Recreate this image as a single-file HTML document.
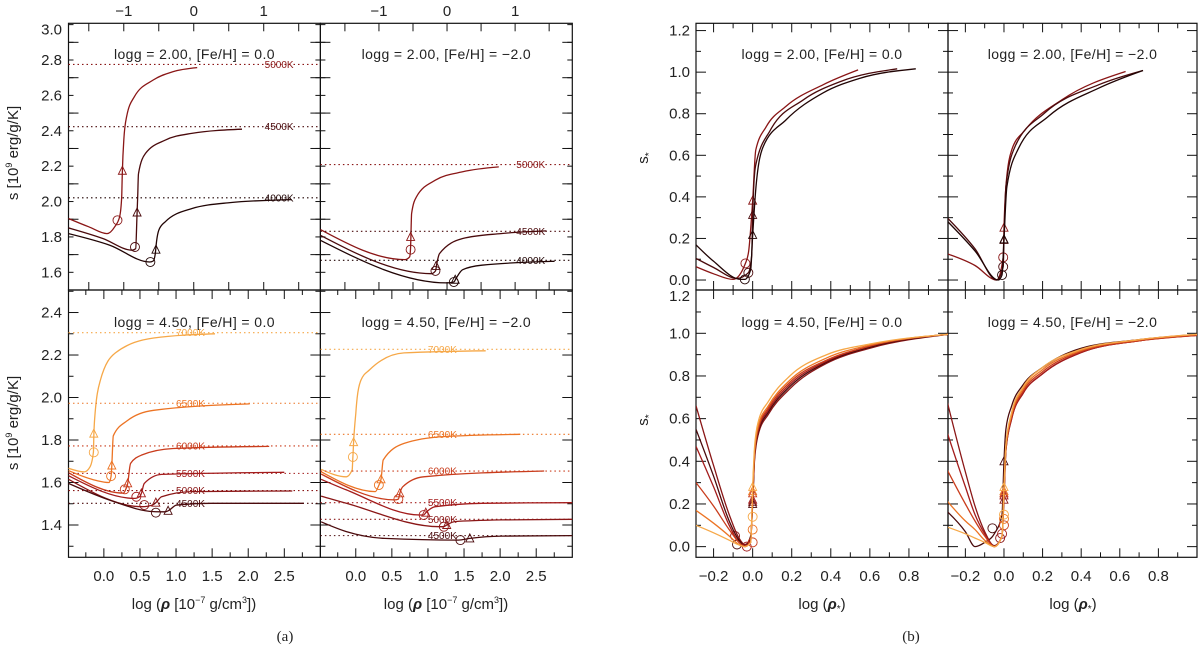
<!DOCTYPE html>
<html><head><meta charset="utf-8"><title>Entropy panels</title>
<style>
html,body{margin:0;padding:0;background:#fff;}
svg{display:block;font-family:"Liberation Sans",sans-serif;}
text{fill:#222;}
</style></head>
<body>
<svg id="fig" width="1200" height="650" viewBox="0 0 1200 650" xmlns="http://www.w3.org/2000/svg">
<defs>
<clipPath id="cA1"><rect x="68.5" y="23.3" width="251.9" height="266.7"/></clipPath>
<clipPath id="cA2"><rect x="320.4" y="23.3" width="251.9" height="266.7"/></clipPath>
<clipPath id="cA3"><rect x="68.5" y="290" width="251.9" height="267.3"/></clipPath>
<clipPath id="cA4"><rect x="320.4" y="290" width="251.9" height="267.3"/></clipPath>
<clipPath id="cB1"><rect x="696" y="23.3" width="252" height="266.7"/></clipPath>
<clipPath id="cB2"><rect x="948" y="23.3" width="249" height="266.7"/></clipPath>
<clipPath id="cB3"><rect x="696" y="290" width="252" height="267.3"/></clipPath>
<clipPath id="cB4"><rect x="948" y="290" width="249" height="267.3"/></clipPath>
</defs>
<g id="layer"></g>
<text transform="translate(18,153) rotate(-90)" text-anchor="middle" font-size="15">s [10<tspan font-size="9" dy="-6">9</tspan><tspan dy="6"> erg/g/K]</tspan></text>
<text transform="translate(18,423) rotate(-90)" text-anchor="middle" font-size="15">s [10<tspan font-size="9" dy="-6">9</tspan><tspan dy="6"> erg/g/K]</tspan></text>
<text transform="translate(648,158) rotate(-90)" text-anchor="middle" font-size="15">s<tspan font-size="10" dy="4">*</tspan></text>
<text transform="translate(648,420) rotate(-90)" text-anchor="middle" font-size="15">s<tspan font-size="10" dy="4">*</tspan></text>
<text x="194" y="609" text-anchor="middle" font-size="15">log (<tspan font-weight="bold" font-style="italic">ρ</tspan> [10<tspan font-size="9" dy="-6">−7</tspan><tspan dy="6"> g/cm</tspan><tspan font-size="9" dy="-6">3</tspan><tspan dy="6">])</tspan></text>
<text x="446" y="609" text-anchor="middle" font-size="15">log (<tspan font-weight="bold" font-style="italic">ρ</tspan> [10<tspan font-size="9" dy="-6">−7</tspan><tspan dy="6"> g/cm</tspan><tspan font-size="9" dy="-6">3</tspan><tspan dy="6">])</tspan></text>
<text x="822" y="609" text-anchor="middle" font-size="15">log (<tspan font-weight="bold" font-style="italic">ρ</tspan><tspan font-size="10" dy="3">*</tspan><tspan dy="-3">)</tspan></text>
<text x="1073" y="609" text-anchor="middle" font-size="15">log (<tspan font-weight="bold" font-style="italic">ρ</tspan><tspan font-size="10" dy="3">*</tspan><tspan dy="-3">)</tspan></text>
<text x="285" y="641" text-anchor="middle" font-size="15" font-family="Liberation Serif, serif">(a)</text>
<text x="911" y="641" text-anchor="middle" font-size="15" font-family="Liberation Serif, serif">(b)</text>
</svg>
<script>
const NS='http://www.w3.org/2000/svg';
const tempColor={'4000K':'#200404','4500K':'#4a0a0c','5000K':'#8a1616','5500K':'#a31c1c','6000K':'#c93c1c','6500K':'#ec7424','7000K':'#f6a848'};

// tick label arrays
const aTopTickLabels=[-1,0,1];
const aTopTicks=[-1.5,-1,-0.5,0,0.5,1,1.5];
const aBotTickLabels=[0,0.5,1,1.5,2,2.5];
const aBotMinor=[-0.25,0.25,0.75,1.25,1.75,2.25,2.75];
const aYTopLabels=[1.6,1.8,2.0,2.2,2.4,2.6,2.8,3.0];
const aYBotLabels=[1.4,1.6,1.8,2.0,2.2,2.4];
const bXTickLabels=[-0.2,0,0.2,0.4,0.6,0.8];
const bYLabels=[0,0.2,0.4,0.6,0.8,1.0,1.2];

// ---- panel A1: logg 2.00 [Fe/H] 0.0
const a1Temps=['5000K','4500K','4000K'];
const a1X=[[-1.79,-1.5,-1.24,-1.13,-1.06,-1.03,-1.02,-1.0,-0.96,-0.85,-0.58,-0.30,0.05],
 [-1.79,-1.3,-0.88,-0.83,-0.81,-0.80,-0.79,-0.69,-0.41,-0.03,0.69],
 [-1.79,-1.2,-0.63,-0.58,-0.55,-0.53,-0.50,-0.41,-0.03,0.52,1.40]];
const a1Y=[[1.904,1.857,1.819,1.857,1.913,2.026,2.174,2.347,2.479,2.592,2.687,2.734,2.757],
 [1.851,1.791,1.725,1.734,1.938,2.045,2.158,2.272,2.347,2.385,2.409],
 [1.819,1.753,1.658,1.664,1.706,1.781,1.838,1.885,1.960,1.994,2.011]];
const a1CircX=[-1.09,-0.84,-0.62], a1CircY=[1.894,1.743,1.658];
const a1TriX=[-1.02,-0.81,-0.54], a1TriY=[2.174,1.938,1.728];
const a1Levels=[2.775,2.423,2.021];

// ---- panel A2: logg 2.00 [Fe/H] -2.0
const a2Temps=['5000K','4500K','4000K'];
const a2X=[[-1.86,-0.62,-0.55,-0.535,-0.52,-0.45,-0.17,0.23,0.76],
 [-1.86,-0.23,-0.17,-0.15,-0.11,0.23,0.79,1.46],
 [-1.86,0,0.10,0.13,0.23,0.51,1.58]];
const a2Y=[[1.842,1.672,1.687,1.743,1.932,2.026,2.121,2.168,2.196],
 [1.809,1.592,1.608,1.649,1.706,1.791,1.819,1.834],
 [1.781,1.540,1.545,1.564,1.615,1.640,1.662]];
const a2CircX=[-0.535,-0.17,0.10], a2CircY=[1.728,1.608,1.545];
const a2TriX=[-0.535,-0.16,0.12], a2TriY=[1.800,1.636,1.558];
const a2Levels=[2.209,1.832,1.668];

// ---- panel A3: logg 4.50 [Fe/H] 0.0
const a3Temps=['7000K','6500K','6000K','5500K','5000K','4500K'];
const a3X=[[-0.49,-0.27,-0.19,-0.145,-0.138,-0.13,-0.05,0.16,0.69,1.54],
 [-0.49,-0.11,0.07,0.10,0.11,0.13,0.32,0.69,2.02],
 [-0.49,0.27,0.30,0.33,0.37,0.53,0.96,2.29],
 [-0.49,0.43,0.50,0.52,0.56,0.80,2.50],
 [-0.49,0.53,0.68,0.72,0.80,1.22,2.61],
 [-0.49,0.10,0.69,0.85,0.89,1.01,1.49,2.77]];
const a3Y=[[1.667,1.65,1.675,1.742,1.83,1.89,2.08,2.21,2.28,2.30],
 [1.656,1.61,1.60,1.63,1.68,1.82,1.89,1.94,1.97],
 [1.646,1.55,1.565,1.596,1.69,1.73,1.76,1.77],
 [1.632,1.525,1.535,1.549,1.596,1.638,1.648],
 [1.615,1.486,1.495,1.505,1.533,1.557,1.56],
 [1.596,1.515,1.463,1.462,1.467,1.494,1.502,1.502]];
const a3CircX=[-0.14,0.10,0.29,0.45,0.56,0.72], a3CircY=[1.742,1.63,1.568,1.533,1.494,1.458];
const a3TriX=[-0.14,0.11,0.33,0.52,0.72,0.89], a3TriY=[1.83,1.68,1.596,1.549,1.505,1.467];
const a3Levels=[2.305,1.973,1.772,1.643,1.562,1.502];

// ---- panel A4: logg 4.50 [Fe/H] -2.0
const a4Temps=['7000K','6500K','6000K','5500K','5000K','4500K'];
const a4X=[[-0.48,-0.13,-0.05,-0.04,-0.03,0,0.02,0.07,0.19,0.67,1.80],
 [-0.48,0.27,0.32,0.35,0.38,0.67,1.21,2.28],
 [-0.48,0.54,0.59,0.61,0.65,0.94,2.61],
 [-0.48,-0.13,0.89,0.94,0.97,1.10,1.75,3.0],
 [-0.48,-0.13,1.16,1.22,1.26,1.37,2.02,3.0],
 [-0.48,-0.13,0.40,1.42,1.58,2.02,3.0]];
const a4Y=[[1.662,1.627,1.66,1.72,1.79,1.925,2.0,2.08,2.13,2.21,2.22],
 [1.651,1.557,1.588,1.615,1.706,1.784,1.816,1.827],
 [1.64,1.518,1.522,1.549,1.58,1.627,1.654],
 [1.615,1.565,1.447,1.447,1.458,1.486,1.502,1.505],
 [1.536,1.502,1.392,1.392,1.40,1.416,1.424,1.427],
 [1.415,1.369,1.337,1.329,1.337,1.348,1.35]];
const a4CircX=[-0.04,0.32,0.59,0.94,1.22,1.45], a4CircY=[1.72,1.588,1.522,1.447,1.392,1.329];
const a4TriX=[-0.03,0.35,0.61,0.97,1.26,1.58], a4TriY=[1.79,1.615,1.549,1.458,1.40,1.337];
const a4Levels=[2.227,1.827,1.654,1.505,1.427,1.35];

// ---- panel B1
const b1Temps=['5000K','4500K','4000K'];
const b1X=[[-0.29,-0.2,-0.10,-0.037,-0.02,0.0,0.016,0.07,0.17,0.36,0.54],
 [-0.29,-0.2,-0.08,-0.022,-0.005,0,0.015,0.09,0.26,0.45,0.74],
 [-0.29,-0.2,-0.06,-0.04,-0.01,0,0.017,0.054,0.17,0.36,0.55,0.835]];
const b1Y=[[0.064,0.03,0.003,0.08,0.14,0.382,0.626,0.738,0.835,0.939,1.011],
 [0.104,0.06,0.008,0.035,0.12,0.313,0.55,0.72,0.867,0.955,1.016],
 [0.169,0.09,0.003,0.003,0.05,0.217,0.449,0.642,0.77,0.90,0.971,1.016]];
const b1CircX=[-0.037,-0.022,-0.04], b1CircY=[0.08,0.035,0.003];
const b1TriX=[0,0,0], b1TriY=[0.382,0.313,0.217];

// ---- panel B2
const b2Temps=['5000K','4500K','4000K'];
const b2X=[[-0.30,-0.15,-0.038,-0.004,0,0.01,0.04,0.11,0.30,0.63],
 [-0.30,-0.15,-0.038,-0.004,0,0.01,0.057,0.21,0.49,0.72],
 [-0.30,-0.15,-0.03,-0.01,0,0.015,0.076,0.23,0.49,0.72]];
const b2Y=[[0.128,0.07,0.0,0.109,0.252,0.449,0.626,0.722,0.867,1.003],
 [0.305,0.15,0.0,0.064,0.193,0.449,0.642,0.803,0.939,1.008],
 [0.289,0.14,0.0,0.024,0.196,0.449,0.634,0.787,0.923,1.008]];
const b2CircX=[-0.004,-0.004,-0.01], b2CircY=[0.109,0.064,0.024];
const b2TriX=[0,0,0], b2TriY=[0.252,0.193,0.196];

// ---- panel B3
const b3Temps=['5000K','4500K','5500K','6000K','6500K','7000K'];
const b3X=[-0.29,-0.2,-0.12,-0.07,-0.04,-0.01,0,0.01,0.03,0.08,0.19,0.38,0.6,1.0];
const b3Y=[[0.66,0.38,0.15,0.04,0.01,0.04,0.21,0.41,0.53,0.62,0.74,0.86,0.93,0.995],
 [0.55,0.33,0.12,0.03,0.005,0.05,0.20,0.42,0.54,0.63,0.75,0.865,0.935,0.995],
 [0.47,0.28,0.10,0.02,0.005,0.03,0.22,0.43,0.55,0.64,0.76,0.87,0.94,0.995],
 [0.30,0.19,0.08,0.02,0.0,0.02,0.25,0.44,0.56,0.65,0.77,0.875,0.94,0.995],
 [0.17,0.11,0.05,0.01,0.0,0.02,0.26,0.45,0.57,0.66,0.78,0.885,0.945,0.995],
 [0.10,0.065,0.03,0.008,0.0,0.02,0.28,0.47,0.59,0.68,0.80,0.90,0.95,0.995]];
const b3CircX=[-0.09,-0.08,-0.03,0,0,0], b3CircY=[0.05,0.01,0.0,0.02,0.08,0.14];
const b3TriX=[0,0,0,0,0,0], b3TriY=[0.21,0.20,0.22,0.25,0.26,0.28];

// ---- panel B4
const b4Temps=['4500K','5000K','5500K','6000K','6500K','7000K'];
const b4X=[-0.30,-0.2,-0.15,-0.1,-0.05,-0.01,0,0.01,0.04,0.1,0.2,0.4,0.7,1.0];
const b4Y=[[0.17,0.07,0.0,0.02,0.06,0.15,0.40,0.55,0.66,0.76,0.84,0.93,0.97,0.995],
 [0.70,0.35,0.19,0.07,0.005,0.05,0.22,0.45,0.60,0.72,0.81,0.91,0.965,0.99],
 [0.55,0.28,0.15,0.06,0.0,0.05,0.24,0.45,0.60,0.72,0.81,0.91,0.965,0.99],
 [0.37,0.20,0.12,0.05,0.0,0.05,0.25,0.46,0.61,0.73,0.82,0.915,0.965,0.99],
 [0.22,0.12,0.08,0.03,0.0,0.05,0.26,0.47,0.62,0.74,0.83,0.92,0.97,0.995],
 [0.094,0.06,0.04,0.02,0.0,0.05,0.28,0.48,0.63,0.75,0.84,0.925,0.97,0.995]];
const b4CircX=[-0.06,-0.02,-0.01,0,0,0], b4CircY=[0.086,0.04,0.06,0.10,0.13,0.15];
const b4TriX=[0,0,0,0,0,0], b4TriY=[0.40,0.22,0.24,0.25,0.26,0.28];

const layer=document.getElementById('layer');
function el(tag,attrs,parent){const e=document.createElementNS(NS,tag);for(const k in attrs)e.setAttribute(k,attrs[k]);(parent||layer).appendChild(e);return e;}
function fmt(v){return (v<0?'\u2212':'')+Math.abs(v).toFixed(1);}

// monotone cubic (x-monotone) path through pixel points
function monoPath(raw){
  const P=[];raw.forEach(p=>{if(!P.length||p[0]-P[P.length-1][0]>0.05)P.push(p);});
  const n=P.length; if(n<2)return '';
  if(n===2)return `M${P[0][0]},${P[0][1]}L${P[1][0]},${P[1][1]}`;
  const h=[],s=[];
  for(let i=0;i<n-1;i++){h.push(P[i+1][0]-P[i][0]);s.push((P[i+1][1]-P[i][1])/h[i]);}
  const m=new Array(n);
  for(let i=1;i<n-1;i++){
    const s0=s[i-1],s1=s[i];
    if(s0*s1<=0){m[i]=0;continue;}
    const p=(s0*h[i]+s1*h[i-1])/(h[i-1]+h[i]);
    m[i]=(Math.sign(s0)+Math.sign(s1))*Math.min(Math.abs(s0),Math.abs(s1),0.5*Math.abs(p));
  }
  m[0]=(3*s[0]-m[1])/2; m[n-1]=(3*s[n-2]-m[n-2])/2;
  let d=`M${P[0][0].toFixed(1)},${P[0][1].toFixed(1)}`;
  for(let i=0;i<n-1;i++){
    const dx=h[i]/3;
    d+=`C${(P[i][0]+dx).toFixed(1)},${(P[i][1]+m[i]*dx).toFixed(1)} ${(P[i+1][0]-dx).toFixed(1)},${(P[i+1][1]-m[i+1]*dx).toFixed(1)} ${P[i+1][0].toFixed(1)},${P[i+1][1].toFixed(1)}`;
  }
  return d;
}

function makePanel(id,x0,x1,y0,y1,xr,yr){
  return {id,x0,x1,y0,y1,xr,yr,
    sx:v=>x0+(v-xr[0])/(xr[1]-xr[0])*(x1-x0),
    sy:v=>y1-(v-yr[0])/(yr[1]-yr[0])*(y1-y0)};
}
const A1=makePanel('A1',68.5,320.4,23.3,290,[-1.79,1.81],[1.5,3.0075]);
const A2=makePanel('A2',320.4,572.3,23.3,290,[-1.86,1.84],[1.5,3.0075]);
const A3=makePanel('A3',68.5,320.4,290,557.3,[-0.49,3.0],[1.248,2.506]);
const A4=makePanel('A4',320.4,572.3,290,557.3,[-0.49,3.0],[1.248,2.506]);
const B1=makePanel('B1',696,948,23.3,290,[-0.29,1.0],[-0.048,1.235]);
const B2=makePanel('B2',948,1197,23.3,290,[-0.29,1.0],[-0.048,1.235]);
const B3=makePanel('B3',696,948,290,557.3,[-0.29,1.0],[-0.05,1.203]);
const B4=makePanel('B4',948,1197,290,557.3,[-0.29,1.0],[-0.05,1.203]);

function frame(p){
  const r=el('rect',{x:p.x0,y:p.y0,width:p.x1-p.x0,height:p.y1-p.y0,fill:'none',stroke:'#111','stroke-width':1.2});
  
  
}
function xTicks(p,vals,len,edges){
  vals.forEach(v=>{const x=p.sx(v); if(x<p.x0+1||x>p.x1-1)return;
    edges.forEach(ed=>{const y=ed==='top'?p.y0:p.y1; const d=ed==='top'?len:-len;
      const t=el('line',{x1:x,x2:x,y1:y,y2:y+d,stroke:'#111','stroke-width':1});
      
      });});
}
function yTicks(p,from,to,step,len){
  for(let v=from;v<=to+1e-9;v+=step){const y=p.sy(v); if(y<p.y0+1||y>p.y1-1)continue;
    [[p.x0,len],[p.x1,-len]].forEach(([x,d])=>{
      const t=el('line',{x1:x,x2:x+d,y1:y,y2:y,stroke:'#111','stroke-width':1});
      
      });}
}
function yLabels(p,vals,x){
  vals.forEach(v=>{let y=p.sy(v)+5; if(y<p.y0+11)y=p.y0+11; if(y>p.y1+4 && p.y0<30)y=p.y1-1;
    const t=el('text',{x:x,y:y,'text-anchor':'end','font-size':15});t.textContent=v.toFixed(1);
    
    });
}
function xLabels(p,vals,y,dec){
  vals.forEach(v=>{const t=el('text',{x:p.sx(v),y:y,'text-anchor':'middle','font-size':15});
    t.textContent=dec?fmt(v):(v<0?'\u2212'+Math.abs(v):String(v));
    
    });
}
function title(p,txt,y){
  const t=el('text',{x:(p.x0+p.x1)/2,y:y,'text-anchor':'middle','font-size':14,'letter-spacing':'0.4'});
  t.textContent=txt;
  
  
}
function series(p,temps,X,Y,cX,cY,tX,tY,levels,labelX){
  const g=el('g',{'clip-path':'url(#c'+p.id+')'});
  
  
  temps.forEach((T,i)=>{
    const col=tempColor[T];
    if(levels){
      const ly=p.sy(levels[i]);
      const dl=el('line',{x1:p.x0,x2:p.x1,y1:ly,y2:ly,stroke:col,'stroke-width':1.1,'stroke-dasharray':'1.5,3'},g);
      
      
      const lb=el('text',{x:p.sx(labelX),y:ly+3.5,'text-anchor':'middle','font-size':10,fill:col},g);
      lb.textContent=T;lb.style.fill=col;
      
      
    }
    const xs=Array.isArray(X[0])?X[i]:X;
    const pts=xs.map((x,k)=>[p.sx(x),p.sy(Y[i][k])]);
    const pl=el('path',{d:monoPath(pts),fill:'none',stroke:col,'stroke-width':1.3,'stroke-linejoin':'round'},g);
    
    
    const c=el('circle',{cx:p.sx(cX[i]),cy:p.sy(cY[i]),r:4.5,fill:'none',stroke:col,'stroke-width':0.9},g);
    
    
    const tx=p.sx(tX[i]),ty=p.sy(tY[i]);
    const tr=el('polygon',{points:`${tx-4},${ty+3.5} ${tx+4},${ty+3.5} ${tx},${ty-4.5}`,fill:'none',stroke:col,'stroke-width':0.9},g);
    
    
  });
}

// ---------- figure (a)
[A1,A2,A3,A4].forEach(frame);
[A1,A2].forEach(p=>{xTicks(p,aTopTicks,8,['top','bottom']);yTicks(p,1.5,3.0,0.2,10);yTicks(p,1.5,3.0,0.1,5);});
[A3,A4].forEach(p=>{xTicks(p,aBotTickLabels,9,['top','bottom']);xTicks(p,aBotMinor,5,['top','bottom']);yTicks(p,1.2,2.6,0.2,10);yTicks(p,1.3,2.5,0.2,5);});
yLabels(A1,aYTopLabels,62);
yLabels(A3,aYBotLabels,62);
xLabels(A1,aTopTickLabels,16,false);
xLabels(A2,aTopTickLabels,16,false);
xLabels(A3,aBotTickLabels,581,true);
xLabels(A4,aBotTickLabels,581,true);
title(A1,'logg = 2.00, [Fe/H] = 0.0',59);
title(A2,'logg = 2.00, [Fe/H] = \u22122.0',59);
title(A3,'logg = 4.50, [Fe/H] = 0.0',327);
title(A4,'logg = 4.50, [Fe/H] = \u22122.0',327);
series(A1,a1Temps,a1X,a1Y,a1CircX,a1CircY,a1TriX,a1TriY,a1Levels,1.22);
series(A2,a2Temps,a2X,a2Y,a2CircX,a2CircY,a2TriX,a2TriY,a2Levels,1.23);
series(A3,a3Temps,a3X,a3Y,a3CircX,a3CircY,a3TriX,a3TriY,a3Levels,1.2);
series(A4,a4Temps,a4X,a4Y,a4CircX,a4CircY,a4TriX,a4TriY,a4Levels,1.2);

// ---------- figure (b)
[B1,B2,B3,B4].forEach(frame);
[B1,B2,B3,B4].forEach(p=>{
  xTicks(p,[-0.2,0,0.2,0.4,0.6,0.8],9,['top','bottom']);
  xTicks(p,[-0.1,0.1,0.3,0.5,0.7,0.9],5,['top','bottom']);
  yTicks(p,0,1.2,0.2,10);yTicks(p,0.1,1.1,0.2,5);
});
yLabels(B1,bYLabels,690);
yLabels(B3,bYLabels,690);
xLabels(B3,bXTickLabels,581,true);
xLabels(B4,bXTickLabels,581,true);
title(B1,'logg = 2.00, [Fe/H] = 0.0',59);
title(B2,'logg = 2.00, [Fe/H] = \u22122.0',59);
title(B3,'logg = 4.50, [Fe/H] = 0.0',327);
title(B4,'logg = 4.50, [Fe/H] = \u22122.0',327);
series(B1,b1Temps,b1X,b1Y,b1CircX,b1CircY,b1TriX,b1TriY,null,0);
series(B2,b2Temps,b2X,b2Y,b2CircX,b2CircY,b2TriX,b2TriY,null,0);
series(B3,b3Temps,b3X,b3Y,b3CircX,b3CircY,b3TriX,b3TriY,null,0);
series(B4,b4Temps,b4X,b4Y,b4CircX,b4CircY,b4TriX,b4TriY,null,0);
</script>
</body></html>
